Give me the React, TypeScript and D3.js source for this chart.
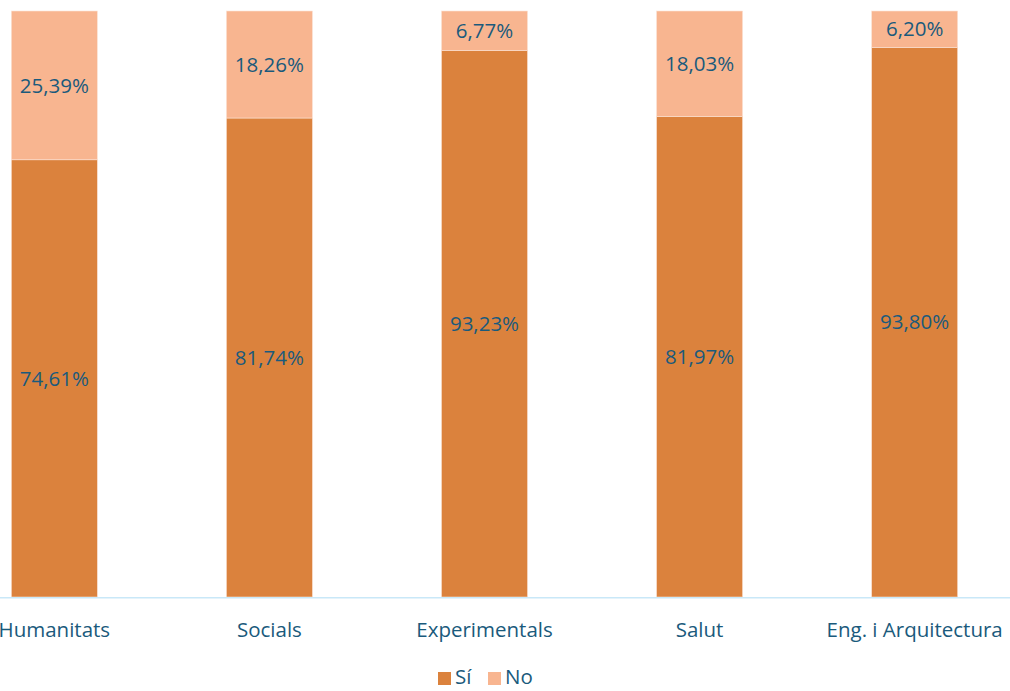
import React from "react";
import * as d3 from "d3";

const categories = ["Humanitats", "Socials", "Experimentals", "Salut", "Eng. i Arquitectura"];
const siValues = [74.61, 81.74, 93.23, 81.97, 93.8];
const noValues = [25.39, 18.26, 6.77, 18.03, 6.2];
const seriesNames = ["Sí", "No"];
const seriesColors = ["#DB823D", "#F8B590"];

const W = 1010;
const H = 691;
const FONT = "'Open Sans', 'Noto Sans', sans-serif";
const TEXT = "#1A5A7C";
const FS = 20.5;

const fmt = (v: number) => v.toFixed(2).replace(".", ",") + "%";

export default function App() {
  const x = d3
    .scaleBand<string>()
    .domain(categories)
    .range([-53.2, 1022.2])
    .paddingInner(0.6)
    .paddingOuter(0.3);
  const y = d3.scaleLinear().domain([0, 100]).range([597, 11]);

  const rows = categories.map((c, i) => ({ cat: c, si: siValues[i], no: noValues[i] }));
  const stack = d3.stack<any>().keys(["si", "no"])(rows);

  return (
    <svg
      width={W}
      height={H}
      style={{ position: "absolute", left: 0, top: 0, background: "#fff" }}
      fontFamily={FONT}
    >
      {stack.map((layer, li) =>
        layer.map((d, i) => {
          const x0 = x(categories[i])!;
          const y0 = y(d[1]);
          const y1 = y(d[0]);
          const v = d[1] - d[0];
          return (
            <g key={`${li}-${i}`}>
              <rect
                x={x0}
                y={y0}
                width={x.bandwidth()}
                height={y1 - y0}
                fill={seriesColors[li]}
                stroke="#FBE3D6"
                strokeWidth={0.6}
              />
              <text
                x={x0 + x.bandwidth() / 2}
                y={(y0 + y1) / 2}
                dy="0.35em"
                textAnchor="middle"
                fontSize={FS}
                fill={TEXT}
              >
                {fmt(v)}
              </text>
            </g>
          );
        })
      )}
      <line x1={0} x2={W} y1={597.7} y2={597.7} stroke="#C9E8F8" strokeWidth={1.5} />
      {categories.map((c) => (
        <text
          key={c}
          x={x(c)! + x.bandwidth() / 2}
          y={637}
          textAnchor="middle"
          fontSize={FS}
          fill={TEXT}
        >
          {c}
        </text>
      ))}
      {seriesNames.map((s, i) => {
        const lx = [438, 488][i];
        return (
          <g key={s}>
            <rect x={lx} y={672} width={13} height={13} fill={seriesColors[i]} />
            <text x={lx + 17} y={684} fontSize={FS} fill={TEXT}>
              {s}
            </text>
          </g>
        );
      })}
    </svg>
  );
}
